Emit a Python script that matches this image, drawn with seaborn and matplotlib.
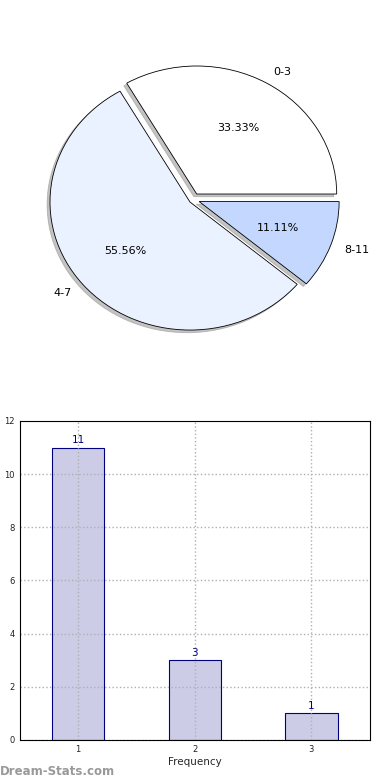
import numpy as np
import pandas as pd
import matplotlib
matplotlib.use("Agg")
import matplotlib.pyplot as plt
import seaborn as sns

# pie data
groups = ["0-3", "4-7", "8-11"]
counts = [3, 5, 1]
pie_colors = ["#ffffff", "#ebf2ff", "#c4d8ff"]

# bar data
freq = [1, 2, 3]
students = [11, 3, 1]

sns.set_style("white")
plt.rcParams['font.family'] = ['DejaVu Sans']

fig = plt.figure(figsize=(3.9, 7.8), dpi=100)

# top: pie
ax1 = fig.add_axes([0.0467, 0.539, 0.8974, 0.4103])
ax1.pie(counts, labels=groups, colors=pie_colors, explode=[0.05, 0.03, 0.045],
        autopct="%.2f%%", shadow=dict(ox=-0.015, oy=-0.015, color="#888888"),
        startangle=0,
        wedgeprops=dict(edgecolor="black", linewidth=0.6),
        textprops=dict(fontsize=8, color="black"))
ax1.set_aspect("auto")
ax1.set_xlim(-1.25, 1.25)
ax1.set_ylim(-1.25, 1.25)

# bottom: bars
ax2 = fig.add_axes([0.051, 0.0513, 0.897, 0.409])
df = pd.DataFrame({"Frequency": freq, "Students": students})
sns.barplot(data=df, x="Frequency", y="Students", native_scale=True, width=0.45,
            color="#ccccE6", saturation=1, edgecolor="#000080", linewidth=0.8, ax=ax2)
for x, y in zip(freq, students):
    ax2.text(x, y + 0.1, str(y), ha="center", va="bottom", color="#000080", fontsize=7.5)
ax2.set_xlim(0.5, 3.5)
ax2.set_ylim(0, 12)
ax2.set_xticks(freq)
ax2.set_yticks(range(0, 13, 2))
ax2.grid(True, linestyle=":", color="#b0b0b0", linewidth=1)
ax2.set_axisbelow(False)
ax2.get_ygridlines()[-1].set_visible(False)
for s in ax2.spines.values():
    s.set_color("black")
    s.set_linewidth(0.8)
    s.set_zorder(5)
ax2.tick_params(labelsize=6, length=3, direction="in", color="#888888", labelcolor="#222222")
ax2.set_xlabel("Frequency", fontsize=7.5, labelpad=2)
ax2.set_ylabel("Students in Family", fontsize=7.5)
ax2.yaxis.set_label_coords(-0.075, 0.5)

fig.text(0.0, 0.006, "Dream-Stats.com", color="#999999", fontsize=8.5, fontweight="bold")

fig.savefig("out.png", dpi=100)
